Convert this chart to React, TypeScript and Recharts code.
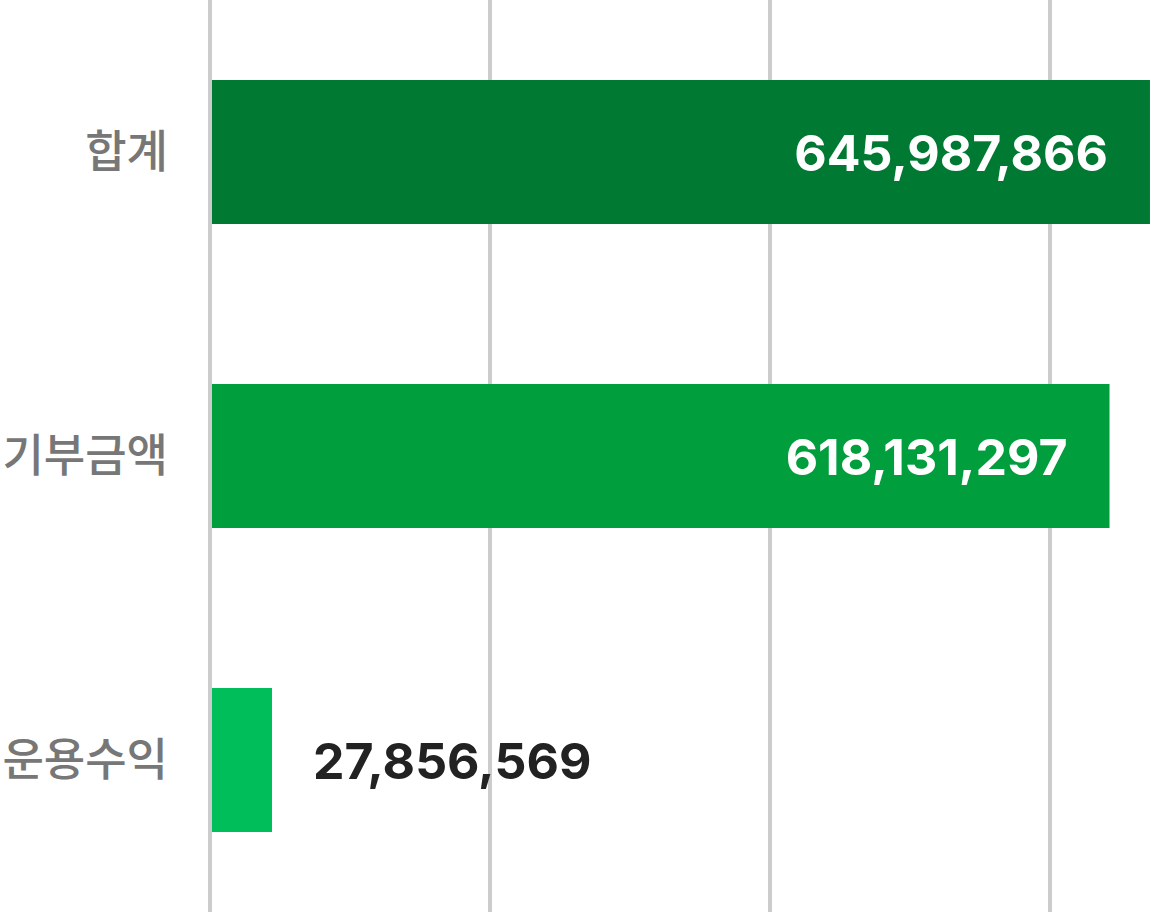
import { BarChart, Bar, XAxis, YAxis, CartesianGrid, Cell, LabelList } from 'recharts'

const categories = ['합계', '기부금액', '운용수익']
const amounts = [645987866, 618131297, 27856569]
const barColors = ['#007a33', '#009e3d', '#00be5a']

// hidden value axis: domain + tick values where the vertical grid lines sit
const valueDomain = [-1377000, 652900000]
const gridTicks = [-1377000, 191463000, 384303000, 577143000]

const chartData = categories.map((name, i) => ({
  name,
  value: amounts[i]
}))

const fmt = (v: number) => v.toLocaleString('en-US')

// grid x positions from the value axis scale (falls back to the plot offset)
const gridX = ({ xAxis, offset }: any) => {
  if (xAxis && typeof xAxis.scale === 'function') return gridTicks.map(t => xAxis.scale(t))
  const left = offset?.left ?? 210
  const w = offset?.width ?? 950
  const [lo, hi] = valueDomain
  return gridTicks.map(t => left + ((t - lo) / (hi - lo)) * w)
}

function ValueLabel(props: any) {
  const { x, y, width, height, value } = props
  const inside = width > 300
  const cy = y + height / 2 + 19
  return (
    <text
      x={inside ? x + width - 42 : x + width + 41}
      y={cy}
      textAnchor={inside ? 'end' : 'start'}
      fill={inside ? '#ffffff' : '#222222'}
      fontFamily="Inter, sans-serif"
      fontWeight={700}
      fontSize={50}
    >
      {fmt(Number(value))}
    </text>
  )
}

export default function App() {
  return (
    <div style={{ position: 'absolute', left: 0, top: 0, background: '#fff' }}>
      <BarChart
        width={1160}
        height={912}
        data={chartData}
        layout="vertical"
        margin={{ top: 0, right: 0, bottom: 0, left: 0 }}
      >
        <CartesianGrid
          horizontal={false}
          stroke="#cccccc"
          strokeWidth={4}
          verticalCoordinatesGenerator={gridX}
        />
        <XAxis
          type="number"
          domain={valueDomain}
          ticks={gridTicks}
          allowDataOverflow
          height={0}
          axisLine={false}
          tickLine={false}
          tick={false}
        />
        <YAxis
          type="category"
          dataKey="name"
          width={210}
          axisLine={false}
          tickLine={false}
          tickSize={0}
          tickMargin={42}
          tick={{ fill: '#777777', fontSize: 45, fontWeight: 500, fontFamily: '"Noto Sans CJK KR", sans-serif' }}
        />
        <Bar dataKey="value" barSize={144} minPointSize={60} isAnimationActive={false}>
          {chartData.map((d, i) => (
            <Cell key={d.name} fill={barColors[i]} />
          ))}
          <LabelList dataKey="value" content={<ValueLabel />} />
        </Bar>
      </BarChart>
    </div>
  )
}
